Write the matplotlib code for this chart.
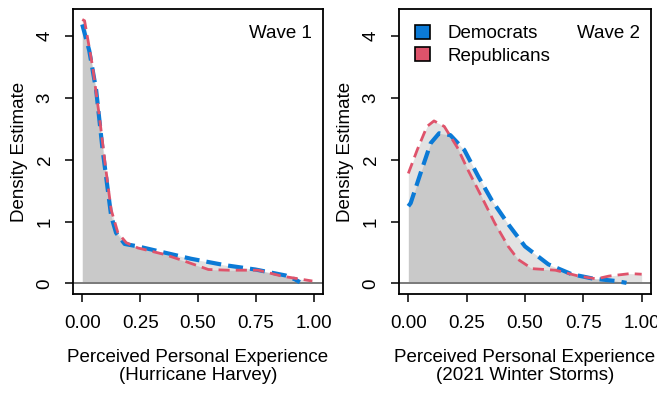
import numpy as np
import matplotlib.pyplot as plt
from matplotlib.patches import Patch

plt.rcParams['font.family'] = ['Liberation Sans', 'DejaVu Sans']

# Wave 1 (Hurricane Harvey) density estimates
w1_dem_x = [0, 0.03, 0.06, 0.088, 0.125, 0.146, 0.183, 0.24, 0.355, 0.47, 0.617, 0.748, 0.878, 0.92, 0.94]
w1_dem_y = [4.19, 3.77, 3.13, 2.16, 1.09, 0.82, 0.64, 0.60, 0.50, 0.40, 0.296, 0.226, 0.13, 0.065, 0.02]
w1_rep_x = [0, 0.01, 0.045, 0.074, 0.10, 0.125, 0.154, 0.19, 0.24, 0.355, 0.443, 0.545, 0.632, 0.76, 0.864, 0.994]
w1_rep_y = [4.27, 4.25, 3.5, 2.7, 1.9, 1.19, 0.82, 0.66, 0.575, 0.47, 0.36, 0.226, 0.215, 0.215, 0.118, 0.04]

# Wave 2 (2021 Winter Storms) density estimates
w2_dem_x = [0, 0.01, 0.052, 0.096, 0.132, 0.18, 0.24, 0.30, 0.357, 0.43, 0.50, 0.60, 0.70, 0.79, 0.89, 0.935]
w2_dem_y = [1.25, 1.3, 1.78, 2.27, 2.43, 2.40, 2.16, 1.73, 1.35, 0.95, 0.60, 0.31, 0.15, 0.08, 0.04, 0.01]
w2_rep_x = [0, 0.038, 0.08, 0.11, 0.154, 0.21, 0.255, 0.313, 0.37, 0.428, 0.47, 0.53, 0.63, 0.73, 0.806, 0.86, 0.95, 1.0]
w2_rep_y = [1.78, 2.16, 2.54, 2.63, 2.54, 2.2, 1.84, 1.41, 0.98, 0.60, 0.39, 0.24, 0.215, 0.12, 0.075, 0.12, 0.16, 0.15]

xticks = [0, 0.25, 0.5, 0.75, 1.0]
xticklabels = ['0.00', '0.25', '0.50', '0.75', '1.00']
yticks = [0, 1, 2, 3, 4]

blue = '#0B7AD6'
red = '#DF536B'

fig = plt.figure(figsize=(6.57, 3.95), dpi=100)
ax1 = fig.add_axes([73 / 657, 101 / 395, 250 / 657, 285 / 395])
ax2 = fig.add_axes([399 / 657, 101 / 395, 252 / 657, 285 / 395])

panels = [
    (ax1, w1_dem_x, w1_dem_y, w1_rep_x, w1_rep_y, 'Wave 1', '(Hurricane Harvey)'),
    (ax2, w2_dem_x, w2_dem_y, w2_rep_x, w2_rep_y, 'Wave 2', '(2021 Winter Storms)'),
]

for ax, dx, dy, rx, ry, wave, event in panels:
    for xs, ys in [(dx, dy), (rx, ry)]:
        ax.fill_between(xs, 0, ys, color='#3b3b3b', alpha=0.145, linewidth=0)
    ax.axhline(0, color='#7a7a7a', lw=1.4)
    ld, = ax.plot(dx, dy, color=blue, lw=3.0)
    ld.set_dashes([3.6, 1.7])
    lr, = ax.plot(rx, ry, color=red, lw=2.0)
    lr.set_dashes([4.0, 2.2])

    ax.set_xlim(-0.04, 1.04)
    ax.set_ylim(-0.17, 4.44)
    ax.set_xticks(xticks)
    ax.set_xticklabels(xticklabels)
    ax.set_yticks(yticks)
    ax.set_yticklabels([str(t) for t in yticks], rotation=90, va='center')
    ax.tick_params(length=6, width=1.1, labelsize=13.5, pad=4)
    ax.tick_params(axis='x', pad=9)
    ax.tick_params(axis='y', pad=8)
    for s in ax.spines.values():
        s.set_linewidth(1.3)
    ax.set_ylabel('Density Estimate', fontsize=13.5, labelpad=6)
    ax.set_xlabel('Perceived Personal Experience\n' + event, fontsize=13.5,
                  labelpad=12, linespacing=1.15)
    ax.text(0.955, 0.915, wave, transform=ax.transAxes, ha='right', va='center',
            fontsize=13.5)

handles = [Patch(facecolor=blue, edgecolor='black', lw=1.2),
           Patch(facecolor=red, edgecolor='black', lw=1.2)]
ax2.legend(handles, ['Democrats', 'Republicans'], loc='upper left',
           bbox_to_anchor=(0.02, 0.985), frameon=False, fontsize=13.5,
           handlelength=0.8, handleheight=0.8, handletextpad=0.9,
           labelspacing=0.25, borderaxespad=0.2)

fig.savefig('out.png', dpi=100)
